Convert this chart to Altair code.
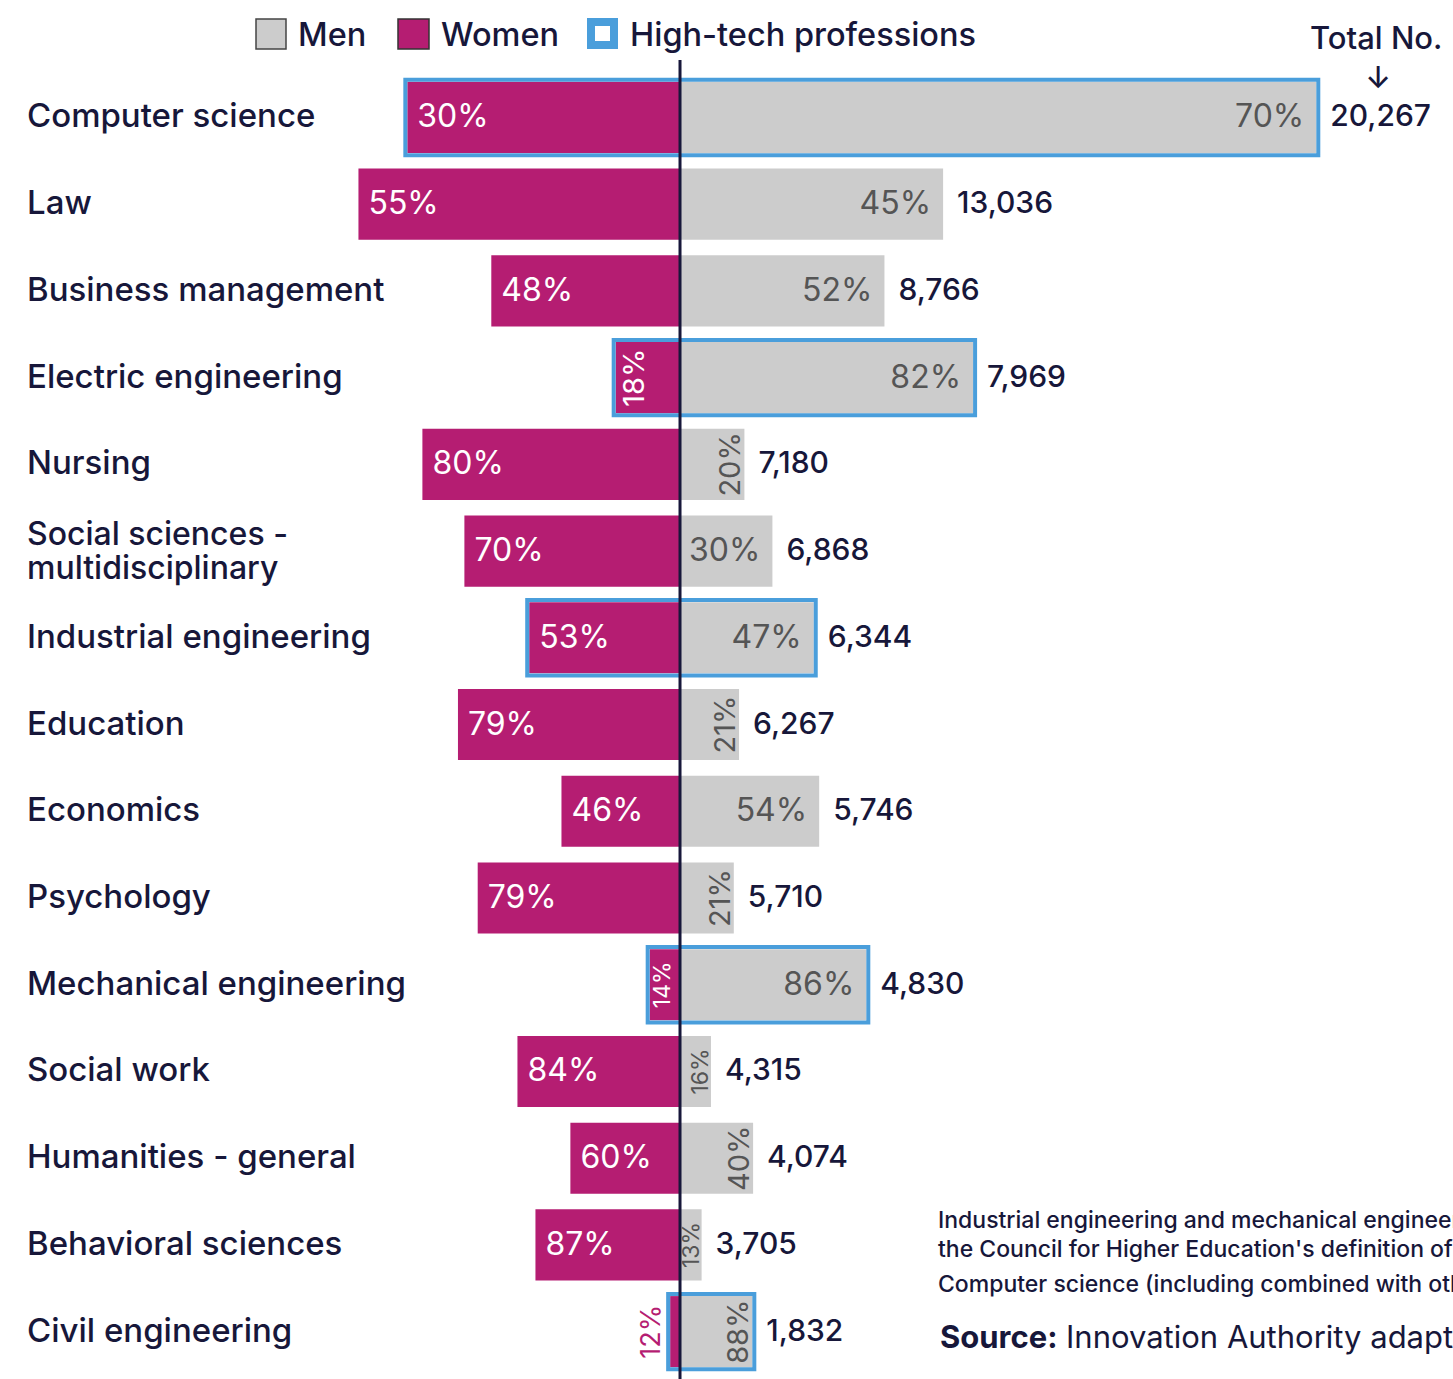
import altair as alt
import pandas as pd

# ---------------- data ----------------
categories = [
    "Computer science", "Law", "Business management", "Electric engineering", "Nursing",
    "Social sciences -\nmultidisciplinary", "Industrial engineering", "Education", "Economics",
    "Psychology", "Mechanical engineering", "Social work", "Humanities - general",
    "Behavioral sciences", "Civil engineering",
]
women_pct = [30, 55, 48, 18, 80, 70, 53, 79, 46, 79, 14, 84, 60, 87, 12]
totals = [20267, 13036, 8766, 7969, 7180, 6868, 6344, 6267, 5746, 5710, 4830, 4315, 4074, 3705, 1832]
high_tech = [True, False, False, True, False, False, True, False, False, False, True, False, False, False, True]

legend_labels = ["Men", "Women", "High-tech professions"]
total_header = "Total No."
note_lines = [
    "Industrial engineering and mechanical engineering are high-tech professions according to",
    "the Council for Higher Education's definition of technological fields",
    "Computer science (including combined with other fields)",
]
source_label = "Source:"
source_text = "Innovation Authority adapted from Council for Higher Education data"

# ---------------- style ----------------
MAG = "#B51D72"
GRAY = "#CCCCCC"
BLUE = "#4A9EDB"
NAVY = "#17173A"
MGRAY = "#555555"
FONT = "Inter"

df = pd.DataFrame({
    "idx": list(range(len(categories))),
    "category": categories,
    "wp": women_pct,
    "total": totals,
    "ht": high_tech,
})

xs = alt.Scale(domain=[-15162, 17235], nice=False, zero=False)
ys = alt.Scale(domain=[-1.354, 14.546], nice=False, zero=False, reverse=True)


def X(f):
    return alt.X(f, type="quantitative", scale=xs, axis=None)


def Y(f):
    return alt.Y(f, type="quantitative", scale=ys, axis=None)


base = alt.Chart(df).transform_calculate(
    women="datum.total * datum.wp / 100",
    men="datum.total * (100 - datum.wp) / 100",
    wl="-datum.total * datum.wp / 100",
    zero="0",
    y0="datum.idx - 0.41",
    y1="datum.idx + 0.41",
    b0="datum.idx - 0.435",
    b1="datum.idx + 0.435",
    wlab="datum.wp + '%'",
    mlab="(100 - datum.wp) + '%'",
    multiline="indexof(datum.category, '\\n') >= 0",
)

women_bars = base.mark_rect(color=MAG).encode(
    x=X("wl"), x2=alt.X2("zero"), y=Y("y0"), y2=alt.Y2("y1")
)
men_bars = base.mark_rect(color=GRAY).encode(
    x=X("zero"), x2=alt.X2("men"), y=Y("y0"), y2=alt.Y2("y1")
)
borders = base.transform_filter("datum.ht").mark_rect(
    fillOpacity=0, stroke=BLUE, strokeWidth=4, xOffset=-2, x2Offset=2
).encode(x=X("wl"), x2=alt.X2("men"), y=Y("b0"), y2=alt.Y2("b1"))

one = pd.DataFrame({"v": [0]})
center_rule = alt.Chart(one).mark_rule(color=NAVY, strokeWidth=3).encode(
    x=X("v"), y=alt.value(60), y2=alt.value(1379)
)

cat_single = base.transform_filter("!datum.multiline").mark_text(
    align="left", baseline="middle", font=FONT, fontSize=33, fontWeight=500, color=NAVY
).encode(x=alt.value(27), y=Y("idx"), text="category:N")
cat_multi = base.transform_filter("datum.multiline").mark_text(
    align="left", baseline="middle", font=FONT, fontSize=32, fontWeight=500, color=NAVY,
    lineBreak="\n", lineHeight=34, yOffset=-16
).encode(x=alt.value(27), y=Y("idx"), text="category:N")

# women labels
w_h = base.transform_filter("datum.women >= 1800").mark_text(
    align="left", baseline="middle", font=FONT, fontSize=32, color="white", xOffset=10
).encode(x=X("wl"), y=Y("idx"), text="wlab:N")
w_rl = base.transform_filter("datum.women >= 1000 && datum.women < 1800").mark_text(
    align="center", baseline="top", angle=270, font=FONT, fontSize=29, color="white", xOffset=5
).encode(x=X("wl"), y=Y("idx"), text="wlab:N")
w_rs = base.transform_filter("datum.women >= 400 && datum.women < 1000").mark_text(
    align="center", baseline="top", angle=270, font=FONT, fontSize=23, color="white", xOffset=2
).encode(x=X("wl"), y=Y("idx"), text="wlab:N")
w_out = base.transform_filter("datum.women < 400").mark_text(
    align="center", baseline="alphabetic", angle=270, font=FONT, fontSize=27, color=MAG, xOffset=-10
).encode(x=X("wl"), y=Y("idx"), text="wlab:N")

# men labels
m_h = base.transform_filter("datum.men >= 1800").mark_text(
    align="right", baseline="middle", font=FONT, fontSize=32, color=MGRAY, xOffset=-12
).encode(x=X("men"), y=Y("idx"), text="mlab:N")
m_rl = base.transform_filter("datum.men >= 1000 && datum.men < 1800").mark_text(
    align="center", baseline="alphabetic", angle=270, font=FONT, fontSize=29, color=MGRAY, xOffset=-4
).encode(x=X("men"), y=Y("idx"), text="mlab:N")
m_rs = base.transform_filter("datum.men < 1000").mark_text(
    align="center", baseline="alphabetic", angle=270, font=FONT, fontSize=23, color=MGRAY, xOffset=-3
).encode(x=X("men"), y=Y("idx"), text="mlab:N")

total_lbl = base.mark_text(
    align="left", baseline="middle", font=FONT, fontSize=30, fontWeight=500, color=NAVY, xOffset=14
).encode(x=X("men"), y=Y("idx"), text=alt.Text("total:Q", format=","))


def note(txt, x, y, size, weight=500, color=NAVY, align="left", baseline="alphabetic"):
    return alt.Chart(pd.DataFrame({"t": [txt]})).mark_text(
        align=align, baseline=baseline, font=FONT, fontSize=size, fontWeight=weight,
        color=color, clip=True
    ).encode(x=alt.value(x), y=alt.value(y), text="t:N")


def box(x1, x2, y1, y2, fill, stroke, sw):
    return alt.Chart(one).mark_rect(fill=fill, stroke=stroke, strokeWidth=sw).encode(
        x=alt.value(x1), x2=alt.value(x2), y=alt.value(y1), y2=alt.value(y2)
    )


legend = [
    box(256, 286, 19, 49, GRAY, "#444444", 1.5),
    note(legend_labels[0], 298, 46, 32.5),
    box(398, 429, 19, 49, MAG, "#333333", 1.5),
    note(legend_labels[1], 441, 46, 32.5),
    box(591, 614, 22, 45, "white", BLUE, 8),
    note(legend_labels[2], 630, 46, 32.5),
]

annotations = [
    note(total_header, 1310, 49, 31),
    note("\u2193", 1378, 88, 30, align="center", baseline="alphabetic"),
    note(note_lines[0], 938, 1228, 23),
    note(note_lines[1], 938, 1257, 23),
    note(note_lines[2], 938, 1292, 23),
    note(source_label, 940, 1348, 31, weight=700),
    note(source_text, 1066, 1348, 31, weight=400),
]

chart = alt.layer(
    women_bars, men_bars, borders, center_rule,
    cat_single, cat_multi, w_h, w_rl, w_rs, w_out, m_h, m_rl, m_rs, total_lbl,
    *legend, *annotations
).properties(
    width=1453, height=1379, padding=0, autosize="none", background="white"
).configure_view(strokeWidth=0)

chart.save("out.html", embed_options={"renderer": "svg", "actions": False})
